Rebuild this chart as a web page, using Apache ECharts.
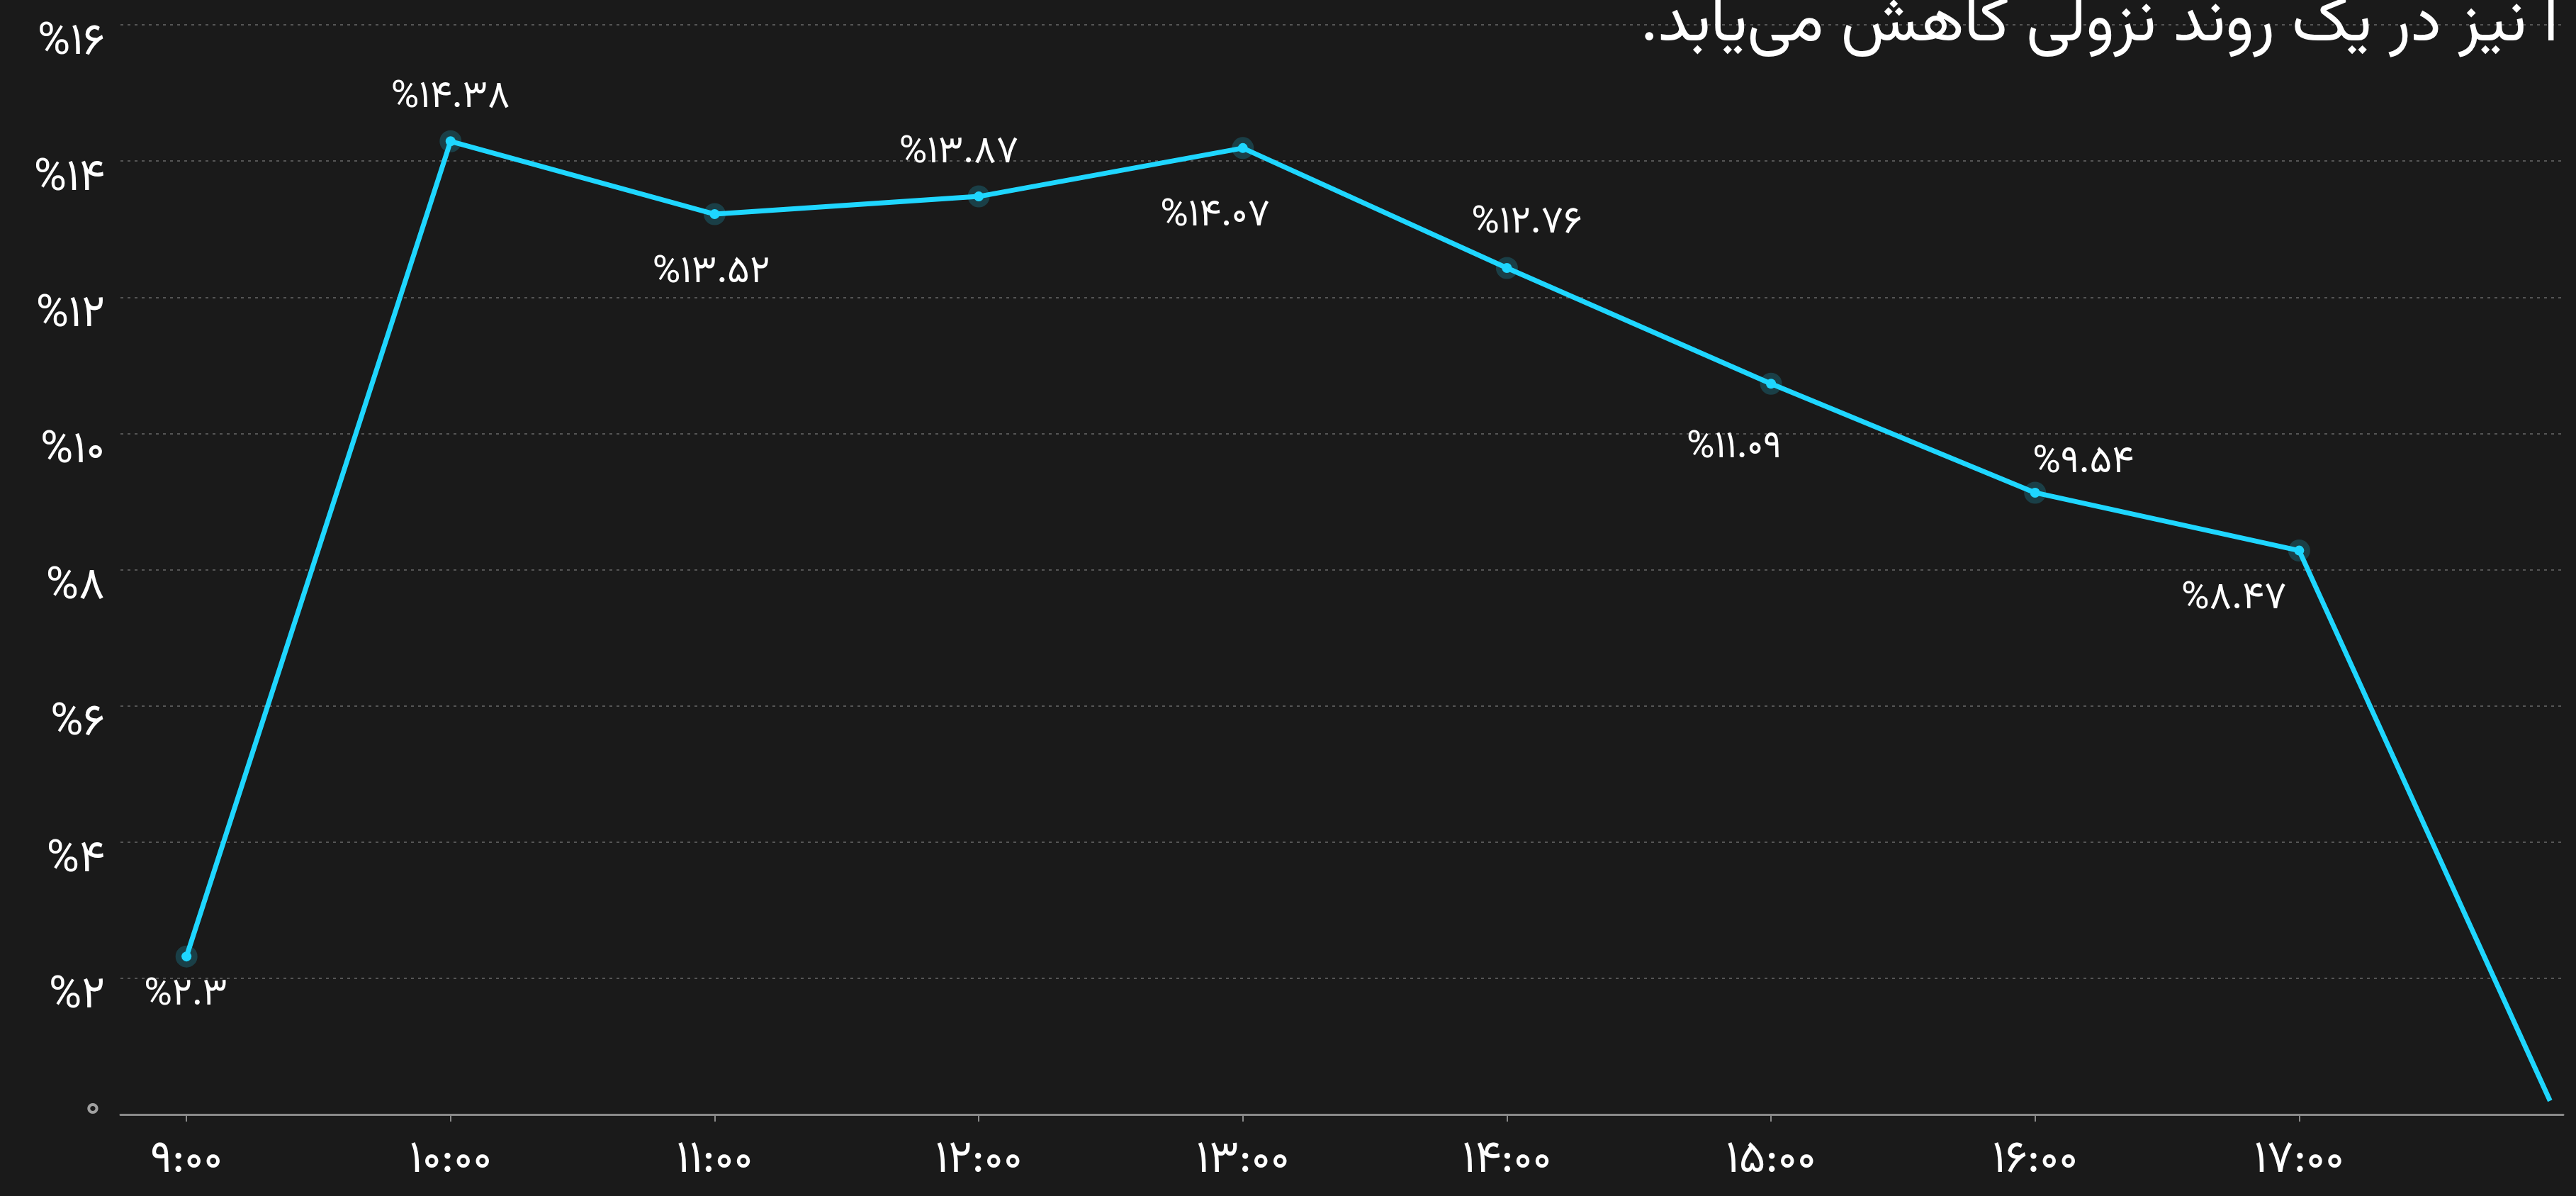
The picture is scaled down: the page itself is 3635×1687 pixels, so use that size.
<!DOCTYPE html>
<html>
<head>
<meta charset="utf-8">
<script src="https://cdn.jsdelivr.net/npm/echarts@6/dist/echarts.min.js"></script>
<style>
html, body { margin: 0; padding: 0; background: #1a1a1a; }
#chart { width: 3635px; height: 1687px; }
</style>
</head>
<body>
<div id="chart"></div>
<script>
// ساعت هر نقطه (آخرین نقطه کمی پیش از ۱۸)
var hours = [9, 10, 11, 12, 13, 14, 15, 16, 17, 17.95];
// مقدار رسم‌شده هر نقطه
var values = [2.32, 14.29, 13.22, 13.48, 14.19, 12.43, 10.73, 9.13, 8.28, 0.2];
// متن برچسب هر نقطه
var labelValues = [2.3, 14.38, 13.52, 13.87, 14.07, 12.76, 11.09, 9.54, 8.47, null];
// برچسب‌های محور افقی
var tickHours = [9, 10, 11, 12, 13, 14, 15, 16, 17];
var titleText = 'ا نیز در یک روند نزولی کاهش می‌یابد.\u200F';

var FONT = 'Vazirmatn';
var CYAN = '#1fd6ff';

function fa(s) {
    return String(s).replace(/[0-9]/g, function (d) {
        return '۰۱۲۳۴۵۶۷۸۹'.charAt(+d);
    });
}

// جابجایی برچسب‌ها نسبت به نقطه
var labelShift = [[-1, 59], [0, -57], [-5, 88], [-28, -57], [-39, 101],
    [28, -58], [-52, 95], [68, -37], [-92, 73]];

var seriesData = hours.map(function (h, i) {
    var item = { value: [h, values[i]] };
    if (labelValues[i] == null) {
        item.symbol = 'none';
        item.label = { show: false };
    } else {
        item.label = {
            show: true,
            position: 'inside',
            offset: labelShift[i],
            formatter: '%' + fa(labelValues[i])
        };
    }
    return item;
});

var chart = echarts.init(document.getElementById('chart'));
chart.setOption({
    backgroundColor: '#1a1a1a',
    animation: false,
    title: {
        text: titleText,
        left: 2310,
        top: -7,
        textStyle: { color: '#fff', fontSize: 90, fontWeight: 'normal', fontFamily: FONT }
    },
    grid: { left: 170, right: 18, top: 35, bottom: 115, containLabel: false },
    xAxis: {
        type: 'value',
        min: 8.75,
        max: 18,
        axisLine: { show: true, lineStyle: { color: '#8a8a8a', width: 3 } },
        axisTick: { show: true, customValues: tickHours, length: 10, lineStyle: { color: '#8a8a8a', width: 2 } },
        splitLine: { show: false },
        axisLabel: {
            customValues: tickHours,
            margin: 39,
            color: '#fff',
            fontSize: 64,
            fontFamily: FONT,
            formatter: function (v) { return fa(v + ':00'); }
        }
    },
    yAxis: {
        type: 'value',
        min: 0,
        max: 16,
        interval: 2,
        axisLine: { show: false },
        axisTick: { show: false },
        splitLine: { show: true, lineStyle: { color: '#555', width: 2, type: [4, 6] } },
        axisLabel: {
            margin: 22,
            formatter: function (v) {
                return v === 0 ? '{z|' + fa(v) + '}' : '{a|%' + fa(v) + '}';
            },
            rich: {
                a: { color: '#fff', fontSize: 63, fontFamily: FONT, padding: [62, 0, 0, 0] },
                z: { color: '#a0a0a0', fontSize: 53, fontFamily: FONT, padding: [0, 6, 8, 0] }
            }
        }
    },
    series: [{
        type: 'line',
        data: seriesData,
        symbol: 'circle',
        symbolSize: 14,
        lineStyle: { color: CYAN, width: 7 },
        itemStyle: { color: CYAN, borderColor: 'rgba(31,214,255,0.2)', borderWidth: 17 },
        label: { color: '#fff', fontSize: 54, fontFamily: FONT },
        z: 3
    }]
});
</script>
</body>
</html>
